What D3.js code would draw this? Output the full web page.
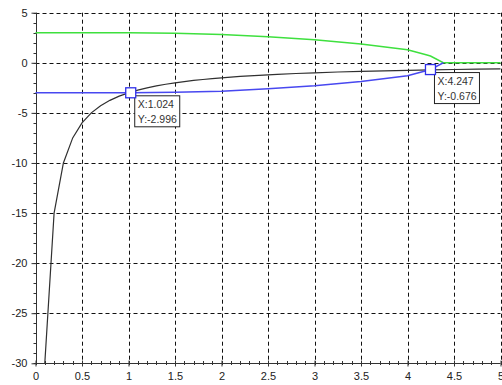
<!DOCTYPE html>
<html><head><meta charset="utf-8">
<script src="https://cdn.jsdelivr.net/npm/d3@7"></script>
<style>
html,body{margin:0;padding:0;background:#fff;}
svg{display:block;font-family:"Liberation Sans",Arial,sans-serif;}
</style></head>
<body><svg id="c" width="502" height="385"></svg>
<script>
// ---- data ----
const blackX = [0.1,0.2,0.3,0.4,0.5,0.6,0.7,0.8,0.9,1.0,1.1,1.2,1.3,1.4,1.5,1.6,1.7,1.8,1.9,2.0,2.2,2.4,2.6,2.8,3.0,3.25,3.5,3.75,4.0,4.25,4.5,4.75,5.0];
const blackY = [-30,-15,-10,-7.5,-6,-5,-4.29,-3.75,-3.33,-3,-2.73,-2.5,-2.31,-2.14,-2,-1.88,-1.76,-1.67,-1.58,-1.5,-1.36,-1.25,-1.15,-1.07,-1,-0.92,-0.86,-0.8,-0.75,-0.71,-0.67,-0.63,-0.6];
const greenX = [0,0.5,1.0,1.5,2.0,2.5,3.0,3.5,4.0,4.1,4.2,4.247,4.385,5.0];
const greenY = [3.0,3.0,2.997,2.95,2.83,2.6,2.3,1.88,1.3,1.05,0.8,0.676,0,0];
const blueX = [0,0.5,1.0,1.024,1.5,2.0,2.5,3.0,3.5,4.0,4.1,4.2,4.247,4.385];
const blueY = [-3.0,-3.0,-2.997,-2.996,-2.95,-2.83,-2.6,-2.3,-1.88,-1.3,-1.05,-0.8,-0.676,0];
const tipX = [1.024,4.247];
const tipY = [-2.996,-0.676];
const tipLabelsX = ["X:1.024","X:4.247"];
const tipLabelsY = ["Y:-2.996","Y:-0.676"];
const xTicks = [0,0.5,1,1.5,2,2.5,3,3.5,4,4.5,5];
const xTickLabels = ["0","0.5","1","1.5","2","2.5","3","3.5","4","4.5","5"];
const yTicks = [5,0,-5,-10,-15,-20,-25,-30];
const yTickLabels = ["5","0","-5","-10","-15","-20","-25","-30"];

const svg = d3.select("#c");
const x = d3.scaleLinear().domain([0,5]).range([35.5,500.5]);
const y = d3.scaleLinear().domain([-30,5]).range([363.3,12.7]);

// grid
const grid = svg.append("g").attr("stroke","#111").attr("stroke-width",1).attr("stroke-dasharray","4,3");
grid.selectAll("line.v").data(xTicks.slice(1)).join("line")
  .attr("x1",d=>Math.round(x(d))+0.5).attr("x2",d=>Math.round(x(d))+0.5)
  .attr("y1",y(5)).attr("y2",y(-30));
grid.selectAll("line.h").data(yTicks.slice(0,-1)).join("line")
  .attr("y1",d=>Math.round(y(d))+0.5).attr("y2",d=>Math.round(y(d))+0.5)
  .attr("x1",x(0)).attr("x2",x(5));

// minor ticks
const minorX = d3.range(0,5.0001,0.1);
const minorY = d3.range(-30,5.0001,1);
const mg = svg.append("g").attr("stroke","#333").attr("stroke-width",1);
mg.selectAll("line.mx").data(minorX).join("line")
  .attr("x1",d=>Math.round(x(d))+0.5).attr("x2",d=>Math.round(x(d))+0.5)
  .attr("y1",Math.round(y(-30))-2).attr("y2",Math.round(y(-30))+2);
mg.selectAll("line.my").data(minorY).join("line")
  .attr("y1",d=>Math.round(y(d))+0.5).attr("y2",d=>Math.round(y(d))+0.5)
  .attr("x1",Math.round(x(0))-2.5).attr("x2",Math.round(x(0))+0.5);

// axes
const xAxis = d3.axisBottom(x).tickValues(xTicks).tickFormat((d,i)=>xTickLabels[i]).tickSize(3).tickPadding(6);
const gx = svg.append("g").attr("transform",`translate(0,${Math.round(y(-30))+0.5})`).call(xAxis);
gx.selectAll(".tick line").attr("y1",-3).attr("y2",3).attr("stroke","#333");
gx.select(".domain").attr("stroke","#333").attr("d",`M${x(0)},0H${x(5)}`);
gx.selectAll("text").attr("font-size",11).attr("fill","#222").attr("font-family","Liberation Sans, Arial, sans-serif");

const yAxis = d3.axisLeft(y).tickValues(yTicks).tickFormat((d,i)=>yTickLabels[i]).tickSize(5).tickPadding(4);
const gy = svg.append("g").attr("transform",`translate(${Math.round(x(0))+0.5},0)`).call(yAxis);
gy.select(".domain").attr("stroke","#333").attr("d",`M0,${y(5)}V${y(-30)}`);
gy.selectAll(".tick line").attr("stroke","#333");
gy.selectAll("text").attr("font-size",11).attr("fill","#222").attr("font-family","Liberation Sans, Arial, sans-serif");

// curves
const line = d3.line().x(d=>x(d[0])).y(d=>y(d[1]));
svg.append("path").datum(blackX.map((v,i)=>[v,blackY[i]]))
  .attr("d",line).attr("fill","none").attr("stroke","#303030").attr("stroke-width",1.2);
svg.append("path").datum(greenX.map((v,i)=>[v,greenY[i]]))
  .attr("d",line).attr("fill","none").attr("stroke","#3ee03e").attr("stroke-width",1.5);
svg.append("path").datum(blueX.map((v,i)=>[v,blueY[i]]))
  .attr("d",line).attr("fill","none").attr("stroke","#4848f0").attr("stroke-width",1.5);

// datatips
const tips = svg.append("g");
tipX.forEach((tx,i)=>{
  const px = x(tx), py = y(tipY[i]);
  const g = tips.append("g").attr("transform",`translate(${px},${py})`);
  g.append("rect").attr("x",4).attr("y",3).attr("width",45).attr("height",31)
    .attr("fill","#fff").attr("stroke","#222").attr("stroke-width",1);
  g.append("rect").attr("x",-5).attr("y",-5).attr("width",10).attr("height",10)
    .attr("fill","#fff").attr("stroke","#2e2ee8").attr("stroke-width",1.3);
  g.append("text").attr("x",7).attr("y",15).attr("font-size",10.5).attr("fill","#333").text(tipLabelsX[i]);
  g.append("text").attr("x",7).attr("y",30).attr("font-size",10.5).attr("fill","#333").text(tipLabelsY[i]);
});
</script></body></html>
